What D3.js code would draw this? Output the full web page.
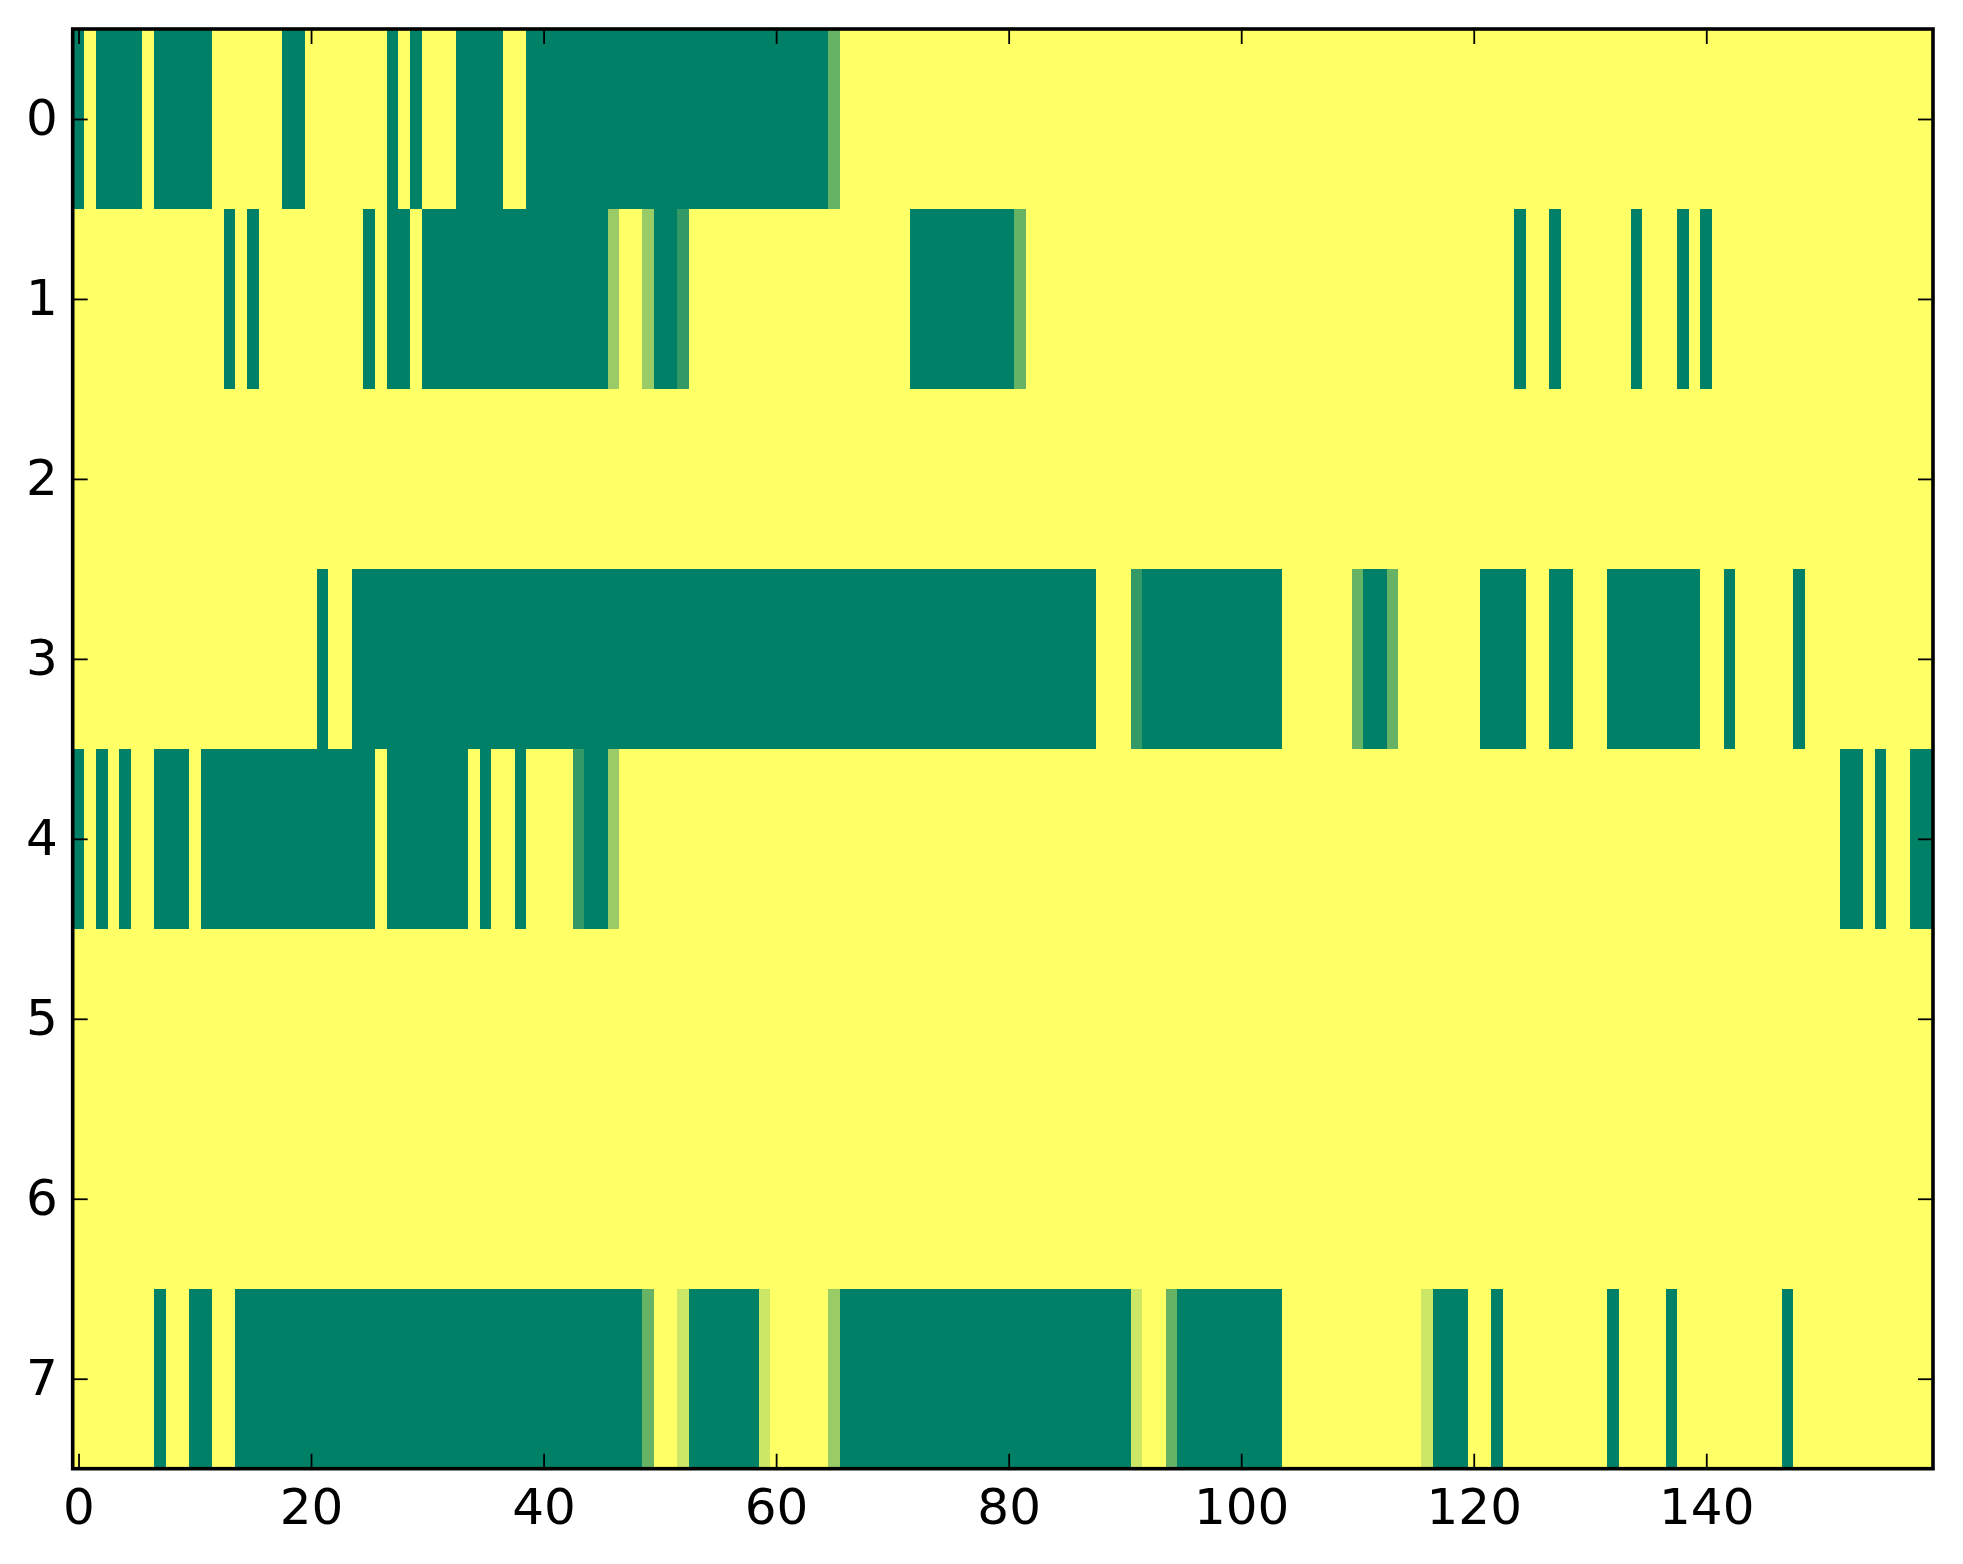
<!DOCTYPE html>
<html>
<head>
<meta charset="utf-8">
<script src="https://cdn.jsdelivr.net/npm/d3@7"></script>
<style>
  html, body { margin: 0; padding: 0; background: #ffffff; }
  svg { display: block; }
</style>
</head>
<body>
<div id="chart"></div>
<script>
// one value per column (160 columns), 0 = green, 1 = yellow (summer colormap)
const row0 = [
  0,1,0,0,0,0,1,0,0,0,0,0,1,1,1,1,1,1,0,0,
  1,1,1,1,1,1,1,0,1,0,1,1,1,0,0,0,0,1,1,0,
  0,0,0,0,0,0,0,0,0,0,0,0,0,0,0,0,0,0,0,0,
  0,0,0,0,0,0.4,1,1,1,1,1,1,1,1,1,1,1,1,1,1,
  1,1,1,1,1,1,1,1,1,1,1,1,1,1,1,1,1,1,1,1,
  1,1,1,1,1,1,1,1,1,1,1,1,1,1,1,1,1,1,1,1,
  1,1,1,1,1,1,1,1,1,1,1,1,1,1,1,1,1,1,1,1,
  1,1,1,1,1,1,1,1,1,1,1,1,1,1,1,1,1,1,1,1
];
const row1 = [
  1,1,1,1,1,1,1,1,1,1,1,1,1,0,1,0,1,1,1,1,
  1,1,1,1,1,0,1,0,0,1,0,0,0,0,0,0,0,0,0,0,
  0,0,0,0,0,0,0.6,1,1,0.6,0,0,0.2,1,1,1,1,1,1,1,
  1,1,1,1,1,1,1,1,1,1,1,1,0,0,0,0,0,0,0,0,
  0,0.4,1,1,1,1,1,1,1,1,1,1,1,1,1,1,1,1,1,1,
  1,1,1,1,1,1,1,1,1,1,1,1,1,1,1,1,1,1,1,1,
  1,1,1,1,0,1,1,0,1,1,1,1,1,1,0,1,1,1,0,1,
  0,1,1,1,1,1,1,1,1,1,1,1,1,1,1,1,1,1,1,1
];
const row2 = [
  1,1,1,1,1,1,1,1,1,1,1,1,1,1,1,1,1,1,1,1,
  1,1,1,1,1,1,1,1,1,1,1,1,1,1,1,1,1,1,1,1,
  1,1,1,1,1,1,1,1,1,1,1,1,1,1,1,1,1,1,1,1,
  1,1,1,1,1,1,1,1,1,1,1,1,1,1,1,1,1,1,1,1,
  1,1,1,1,1,1,1,1,1,1,1,1,1,1,1,1,1,1,1,1,
  1,1,1,1,1,1,1,1,1,1,1,1,1,1,1,1,1,1,1,1,
  1,1,1,1,1,1,1,1,1,1,1,1,1,1,1,1,1,1,1,1,
  1,1,1,1,1,1,1,1,1,1,1,1,1,1,1,1,1,1,1,1
];
const row3 = [
  1,1,1,1,1,1,1,1,1,1,1,1,1,1,1,1,1,1,1,1,
  1,0,1,1,0,0,0,0,0,0,0,0,0,0,0,0,0,0,0,0,
  0,0,0,0,0,0,0,0,0,0,0,0,0,0,0,0,0,0,0,0,
  0,0,0,0,0,0,0,0,0,0,0,0,0,0,0,0,0,0,0,0,
  0,0,0,0,0,0,0,0,1,1,1,0.2,0,0,0,0,0,0,0,0,
  0,0,0,0,1,1,1,1,1,1,0.4,0,0,0.4,1,1,1,1,1,1,
  1,0,0,0,0,1,1,0,0,1,1,1,0,0,0,0,0,0,0,0,
  1,1,0,1,1,1,1,1,0,1,1,1,1,1,1,1,1,1,1,1
];
const row4 = [
  0,1,0,1,0,1,1,0,0,0,1,0,0,0,0,0,0,0,0,0,
  0,0,0,0,0,0,1,0,0,0,0,0,0,0,1,0,1,1,0,1,
  1,1,1,0.2,0,0,0.6,1,1,1,1,1,1,1,1,1,1,1,1,1,
  1,1,1,1,1,1,1,1,1,1,1,1,1,1,1,1,1,1,1,1,
  1,1,1,1,1,1,1,1,1,1,1,1,1,1,1,1,1,1,1,1,
  1,1,1,1,1,1,1,1,1,1,1,1,1,1,1,1,1,1,1,1,
  1,1,1,1,1,1,1,1,1,1,1,1,1,1,1,1,1,1,1,1,
  1,1,1,1,1,1,1,1,1,1,1,1,0,0,1,0,1,1,0,0
];
const row5 = [
  1,1,1,1,1,1,1,1,1,1,1,1,1,1,1,1,1,1,1,1,
  1,1,1,1,1,1,1,1,1,1,1,1,1,1,1,1,1,1,1,1,
  1,1,1,1,1,1,1,1,1,1,1,1,1,1,1,1,1,1,1,1,
  1,1,1,1,1,1,1,1,1,1,1,1,1,1,1,1,1,1,1,1,
  1,1,1,1,1,1,1,1,1,1,1,1,1,1,1,1,1,1,1,1,
  1,1,1,1,1,1,1,1,1,1,1,1,1,1,1,1,1,1,1,1,
  1,1,1,1,1,1,1,1,1,1,1,1,1,1,1,1,1,1,1,1,
  1,1,1,1,1,1,1,1,1,1,1,1,1,1,1,1,1,1,1,1
];
const row6 = [
  1,1,1,1,1,1,1,1,1,1,1,1,1,1,1,1,1,1,1,1,
  1,1,1,1,1,1,1,1,1,1,1,1,1,1,1,1,1,1,1,1,
  1,1,1,1,1,1,1,1,1,1,1,1,1,1,1,1,1,1,1,1,
  1,1,1,1,1,1,1,1,1,1,1,1,1,1,1,1,1,1,1,1,
  1,1,1,1,1,1,1,1,1,1,1,1,1,1,1,1,1,1,1,1,
  1,1,1,1,1,1,1,1,1,1,1,1,1,1,1,1,1,1,1,1,
  1,1,1,1,1,1,1,1,1,1,1,1,1,1,1,1,1,1,1,1,
  1,1,1,1,1,1,1,1,1,1,1,1,1,1,1,1,1,1,1,1
];
const row7 = [
  1,1,1,1,1,1,1,0,1,1,0,0,1,1,0,0,0,0,0,0,
  0,0,0,0,0,0,0,0,0,0,0,0,0,0,0,0,0,0,0,0,
  0,0,0,0,0,0,0,0,0,0.4,1,1,0.8,0,0,0,0,0,0,0.8,
  1,1,1,1,1,0.6,0,0,0,0,0,0,0,0,0,0,0,0,0,0,
  0,0,0,0,0,0,0,0,0,0,0,0.8,1,1,0.4,0,0,0,0,0,
  0,0,0,0,1,1,1,1,1,1,1,1,1,1,1,1,0.8,0,0,0,
  1,1,0,1,1,1,1,1,1,1,1,1,0,1,1,1,1,0,1,1,
  1,1,1,1,1,1,1,0,1,1,1,1,1,1,1,1,1,1,1,1
];

const rows = [row0, row1, row2, row3, row4, row5, row6, row7];
const xTicks = [0, 20, 40, 60, 80, 100, 120, 140];
const yTicks = [0, 1, 2, 3, 4, 5, 6, 7];

const width = 1963;
const height = 1564;
const margin = { top: 29, right: 30, bottom: 95.3, left: 72.7 };

const svg = d3
  .select("#chart")
  .append("svg")
  .attr("width", width)
  .attr("height", height)
  .style("background", "#ffffff");

const nCols = row0.length;

const x = d3
  .scaleLinear()
  .domain([-0.5, nCols - 0.5])
  .range([margin.left, width - margin.right]);

const y = d3
  .scaleLinear()
  .domain([-0.5, rows.length - 0.5])
  .range([margin.top, height - margin.bottom]);

// matplotlib "summer": (v, 0.5 + v/2, 0.4)
const color = d3.scaleLinear().domain([0, 1]).range(["#008066", "#ffff66"]);

const cells = rows.flatMap((vals, r) => vals.map((v, c) => ({ r, c, v })));

svg
  .append("g")
  .attr("shape-rendering", "crispEdges")
  .selectAll("rect")
  .data(cells)
  .join("rect")
  .attr("x", (d) => x(d.c - 0.5))
  .attr("y", (d) => y(d.r - 0.5))
  .attr("width", (d) => x(d.c + 0.5) - x(d.c - 0.5) + 0.4)
  .attr("height", (d) => y(d.r + 0.5) - y(d.r - 0.5) + 0.4)
  .attr("fill", (d) => color(d.v));

//AXES: ticks point inward on all four sides, labels only bottom/left
const tickLen = 15;
const fontSize = 50;

const styleAxis = (g) => {
  g.select(".domain").remove();
  g.selectAll(".tick line").attr("stroke", "#000").attr("stroke-width", 1.8);
  g.selectAll(".tick text")
    .attr("fill", "#000")
    .attr("font-family", "DejaVu Sans, sans-serif")
    .attr("font-size", fontSize);
};

svg
  .append("g")
  .attr("transform", `translate(0,${height - margin.bottom})`)
  .call(d3.axisBottom(x).tickValues(xTicks).tickSize(-tickLen).tickPadding(20))
  .call(styleAxis);

svg
  .append("g")
  .attr("transform", `translate(0,${margin.top})`)
  .call(d3.axisTop(x).tickValues(xTicks).tickSize(-tickLen).tickFormat(""))
  .call(styleAxis);

svg
  .append("g")
  .attr("transform", `translate(${margin.left},0)`)
  .call(d3.axisLeft(y).tickValues(yTicks).tickSize(-tickLen).tickPadding(15))
  .call(styleAxis);

svg
  .append("g")
  .attr("transform", `translate(${width - margin.right},0)`)
  .call(d3.axisRight(y).tickValues(yTicks).tickSize(-tickLen).tickFormat(""))
  .call(styleAxis);

// frame
svg
  .append("rect")
  .attr("x", margin.left)
  .attr("y", margin.top)
  .attr("width", width - margin.left - margin.right)
  .attr("height", height - margin.top - margin.bottom)
  .attr("fill", "none")
  .attr("stroke", "#000")
  .attr("stroke-width", 3.6);
</script>
</body>
</html>
